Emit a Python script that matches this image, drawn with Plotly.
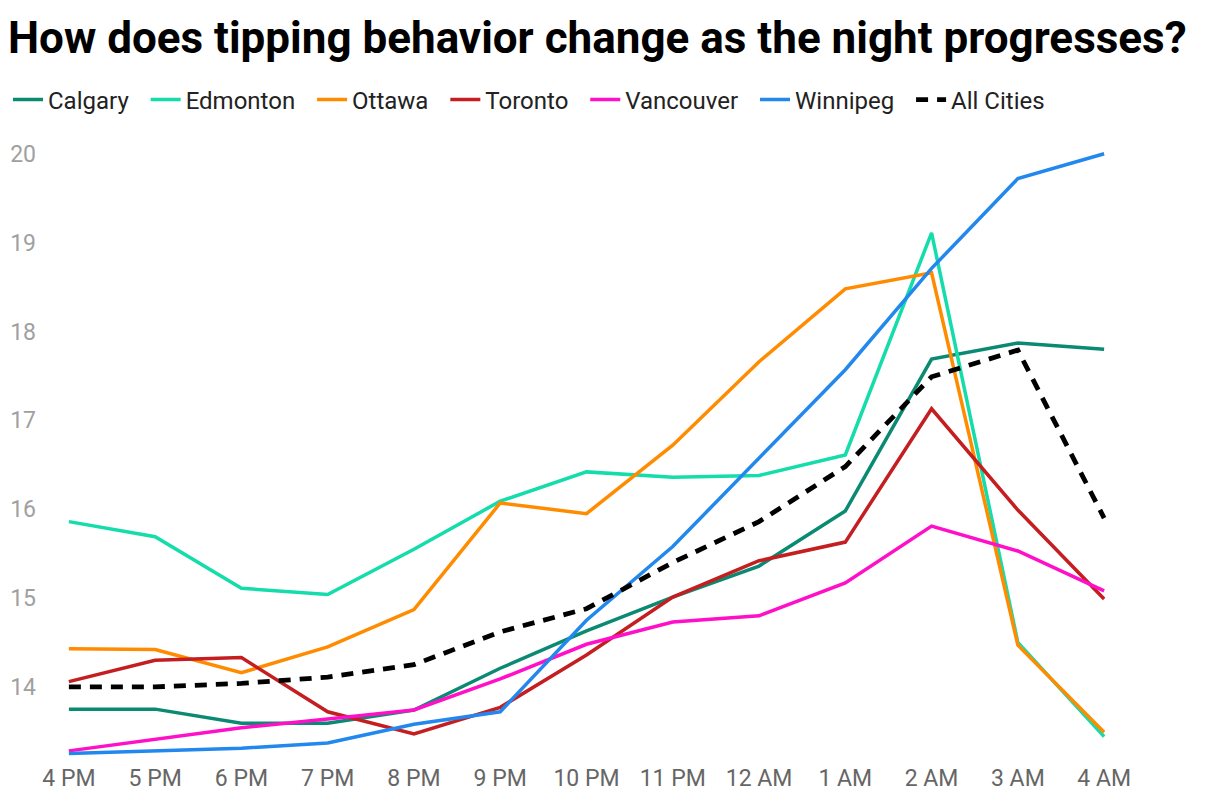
import plotly.graph_objects as go

hours = ["4 PM", "5 PM", "6 PM", "7 PM", "8 PM", "9 PM", "10 PM", "11 PM",
         "12 AM", "1 AM", "2 AM", "3 AM", "4 AM"]

calgary = [13.75, 13.75, 13.59, 13.59, 13.74, 14.21, 14.63, 15.01, 15.36, 15.98, 17.69, 17.87, 17.80]
edmonton = [15.86, 15.69, 15.11, 15.04, 15.55, 16.09, 16.42, 16.36, 16.38, 16.61, 19.11, 14.50, 13.44]
ottawa = [14.43, 14.42, 14.16, 14.45, 14.87, 16.07, 15.95, 16.72, 17.66, 18.48, 18.66, 14.47, 13.49]
toronto = [14.06, 14.30, 14.33, 13.72, 13.47, 13.77, 14.36, 15.01, 15.42, 15.63, 17.13, 15.99, 14.99]
vancouver = [13.28, 13.41, 13.54, 13.64, 13.74, 14.09, 14.48, 14.73, 14.80, 15.17, 15.81, 15.53, 15.08]
winnipeg = [13.25, 13.28, 13.31, 13.37, 13.58, 13.72, 14.75, 15.58, 16.58, 17.57, 18.71, 19.72, 20.00]
all_cities = [14.00, 14.00, 14.04, 14.11, 14.25, 14.62, 14.88, 15.40, 15.86, 16.48, 17.49, 17.79, 15.90]

series = [
    ("Calgary", calgary, "#0a8a72", "solid", 3.5),
    ("Edmonton", edmonton, "#14dcaa", "solid", 3.5),
    ("Ottawa", ottawa, "#ff8c00", "solid", 3.5),
    ("Toronto", toronto, "#c41e20", "solid", 3.5),
    ("Vancouver", vancouver, "#ff10c8", "solid", 3.5),
    ("Winnipeg", winnipeg, "#2288ee", "solid", 3.5),
    ("All Cities", all_cities, "#000000", "12px,9px", 4.8),
]

PAD = "\u00a0\u00a0"

fig = go.Figure()
for name, vals, color, dash, w in series:
    fig.add_trace(go.Scatter(
        x=hours, y=vals, name=name + PAD, mode="lines",
        line=dict(color=color, width=w, dash=dash),
    ))

fig.update_layout(
    width=1220, height=804,
    paper_bgcolor="white", plot_bgcolor="white",
    font=dict(family="Roboto", size=23, color="#222222"),
    margin=dict(l=35, r=98, t=144, b=54),
    title=dict(
        text="<b>How does tipping behavior change as the night progresses?</b>",
        font=dict(family="Roboto", size=44, color="#000000"),
        xref="container", yref="container", x=0.0, y=1 - 30 / 804,
        xanchor="left", yanchor="middle",
    ),
    legend=dict(
        orientation="h", xref="container", yref="container",
        x=0.0, y=1 - 92 / 804, xanchor="left", yanchor="middle",
        font=dict(family="Roboto", size=24, color="#222222"),
        itemwidth=30, tracegroupgap=0,
    ),
    showlegend=True,
)

fig.update_xaxes(
    type="category", range=[-0.3, 12.3], automargin=False,
    showgrid=False, zeroline=False, showline=False, ticks="",
    ticklabelstandoff=4,
    tickfont=dict(family="Roboto", size=23, color="#666666"),
)
fig.update_yaxes(
    range=[13.2, 20.02], tickvals=[14, 15, 16, 17, 18, 19, 20], automargin=False,
    showgrid=False, zeroline=False, showline=False, ticks="",
    ticklabelstandoff=6,
    tickfont=dict(family="Roboto", size=23, color="#a0a0a0"),
)

fig.write_html("out.html")
